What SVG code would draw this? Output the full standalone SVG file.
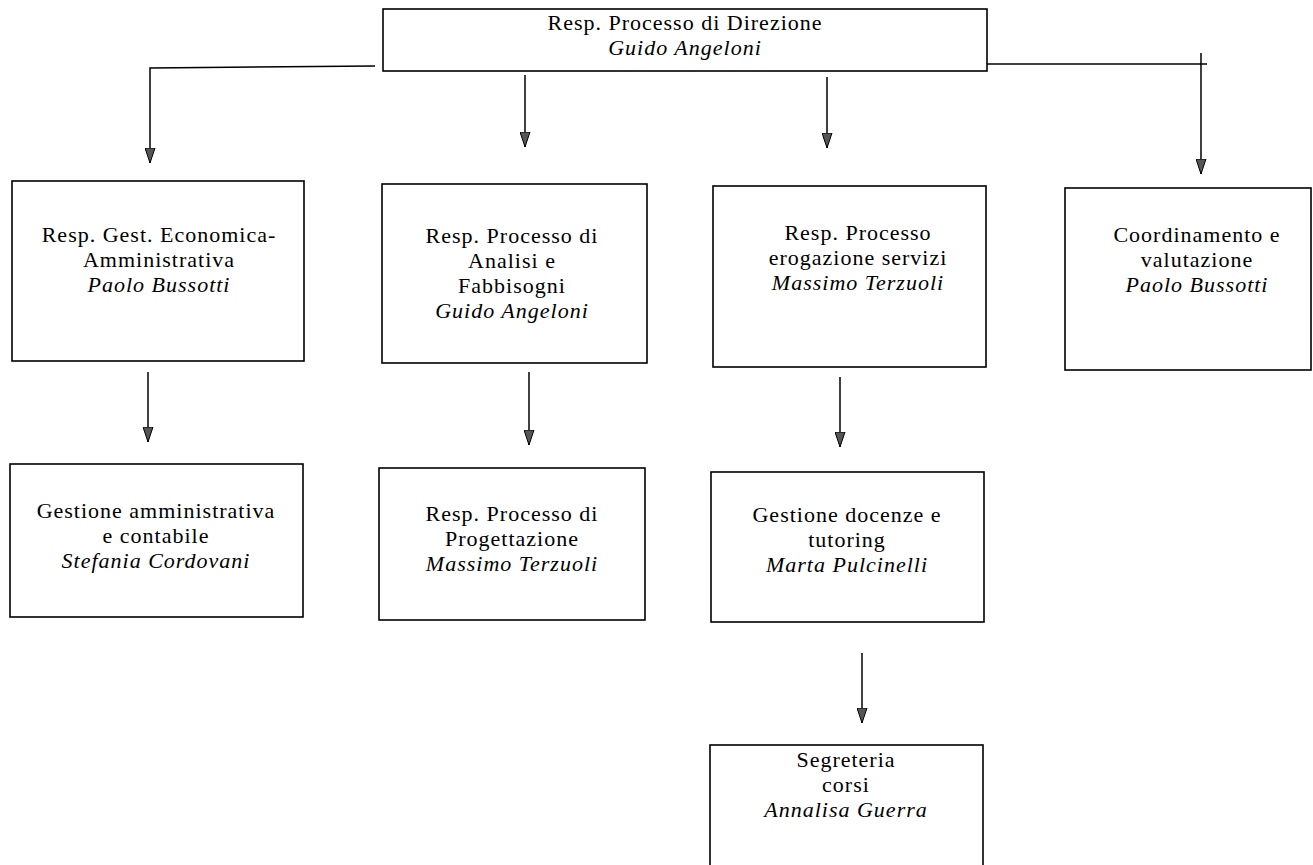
<svg xmlns="http://www.w3.org/2000/svg" width="1313" height="865" viewBox="0 0 1313 865">
<style>
.box{fill:#fff;stroke:#000;stroke-width:1.6}
.t{font-family:"Liberation Serif","Times New Roman",serif;font-size:22px;letter-spacing:1px;fill:#000;text-anchor:middle}
.i{font-style:italic}
.c{fill:none;stroke:#000;stroke-width:1.5}
</style>
<defs>
<marker id="ah" viewBox="0 0 15 11" refX="15" refY="5.5" markerWidth="15" markerHeight="11" markerUnits="userSpaceOnUse" orient="auto">
<path d="M0,0.5 L15,5.5 L0,10.5 z" fill="#555" stroke="#000" stroke-width="1"/>
</marker>
</defs>
<rect width="1313" height="865" fill="#fff"/>
<g id="connectors">
<polyline class="c" points="375,66 150,68 150,163" marker-end="url(#ah)"/>
<line class="c" x1="525" y1="75" x2="525" y2="147" marker-end="url(#ah)"/>
<line class="c" x1="827" y1="77" x2="827" y2="148" marker-end="url(#ah)"/>
<line class="c" x1="987" y1="64" x2="1207" y2="64"/>
<line class="c" x1="1201" y1="53" x2="1201" y2="174" marker-end="url(#ah)"/>
<line class="c" x1="148" y1="372" x2="148" y2="442" marker-end="url(#ah)"/>
<line class="c" x1="529" y1="372" x2="529" y2="445" marker-end="url(#ah)"/>
<line class="c" x1="840" y1="377" x2="840" y2="447" marker-end="url(#ah)"/>
<line class="c" x1="862" y1="653" x2="862" y2="723" marker-end="url(#ah)"/>
</g>
<g id="n-direzione">
<rect class="box" x="383" y="9" width="604" height="62"/>
<text class="t" x="685" y="30">Resp. Processo di Direzione</text>
<text class="t i" x="685" y="55">Guido Angeloni</text>
</g>
<g id="n-economica">
<rect class="box" x="12" y="181" width="292" height="180"/>
<text class="t" x="159" y="242">Resp. Gest. Economica-</text>
<text class="t" x="159" y="267">Amministrativa</text>
<text class="t i" x="159" y="292">Paolo Bussotti</text>
</g>
<g id="n-analisi">
<rect class="box" x="382" y="184" width="265" height="179"/>
<text class="t" x="512" y="243">Resp. Processo di</text>
<text class="t" x="512" y="268">Analisi e</text>
<text class="t" x="512" y="293">Fabbisogni</text>
<text class="t i" x="512" y="318">Guido Angeloni</text>
</g>
<g id="n-erogazione">
<rect class="box" x="713" y="186" width="273" height="181"/>
<text class="t" x="858" y="240">Resp. Processo</text>
<text class="t" x="858" y="265">erogazione servizi</text>
<text class="t i" x="858" y="290">Massimo Terzuoli</text>
</g>
<g id="n-coordinamento">
<rect class="box" x="1065" y="188" width="246" height="182"/>
<text class="t" x="1197" y="242">Coordinamento e</text>
<text class="t" x="1197" y="267">valutazione</text>
<text class="t i" x="1197" y="292">Paolo Bussotti</text>
</g>
<g id="n-amministrativa">
<rect class="box" x="10" y="464" width="293" height="153"/>
<text class="t" x="156" y="518">Gestione amministrativa</text>
<text class="t" x="156" y="543">e contabile</text>
<text class="t i" x="156" y="568">Stefania Cordovani</text>
</g>
<g id="n-progettazione">
<rect class="box" x="379" y="468" width="266" height="152"/>
<text class="t" x="512" y="521">Resp. Processo di</text>
<text class="t" x="512" y="546">Progettazione</text>
<text class="t i" x="512" y="571">Massimo Terzuoli</text>
</g>
<g id="n-docenze">
<rect class="box" x="711" y="472" width="273" height="150"/>
<text class="t" x="847" y="522">Gestione docenze e</text>
<text class="t" x="847" y="547">tutoring</text>
<text class="t i" x="847" y="572">Marta Pulcinelli</text>
</g>
<g id="n-segreteria">
<rect class="box" x="710" y="745" width="273" height="130"/>
<text class="t" x="846" y="767">Segreteria</text>
<text class="t" x="846" y="792">corsi</text>
<text class="t i" x="846" y="817">Annalisa Guerra</text>
</g>
</svg>
